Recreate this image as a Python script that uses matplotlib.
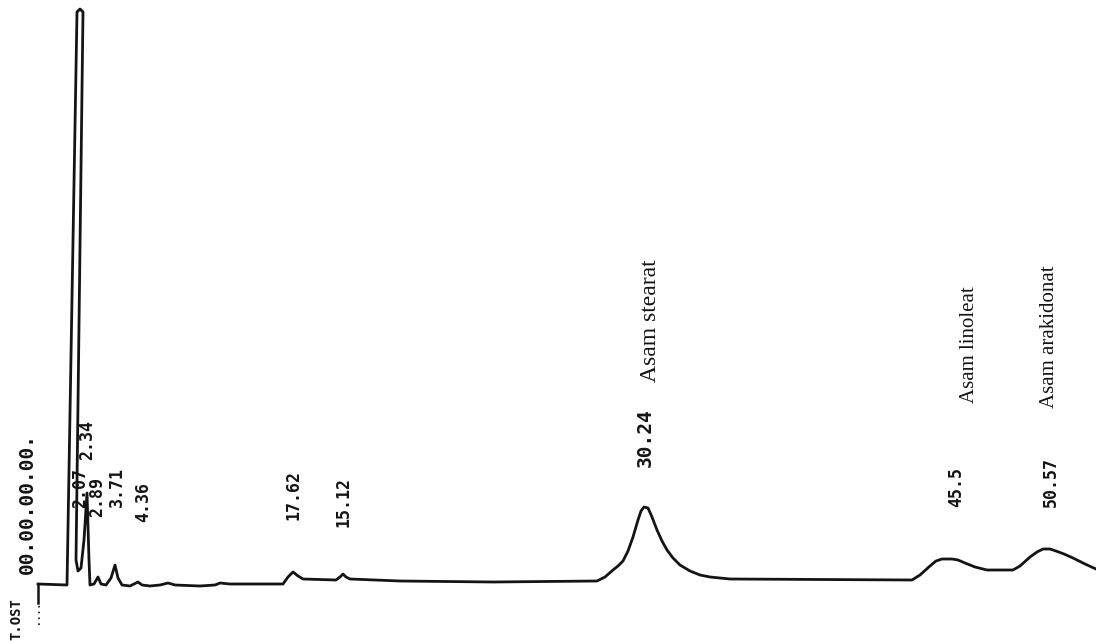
import matplotlib
matplotlib.use("Agg")
import matplotlib.pyplot as plt

# chromatogram trace (x = chart position, y = detector response)
trace_x = [38, 67, 77, 80, 83, 76, 78, 81, 84, 87, 89, 90, 94, 98, 101, 106, 111,
           115, 118, 122, 130, 138, 142, 150, 160, 168, 175, 200, 215, 220, 230,
           283, 288, 293, 298, 303, 336, 340, 343, 346, 350, 400, 493, 597, 605,
           613, 618, 623, 628, 633, 638, 641, 644, 648, 652, 657, 662, 667, 673,
           680, 690, 700, 710, 720, 730, 912, 920, 930, 936, 942, 952, 958, 965,
           975, 987, 1013, 1020, 1030, 1037, 1043, 1050, 1056, 1064, 1073, 1085, 1096]
trace_y = [57, 56, 629, 632, 629, 81, 70, 73, 101, 148, 81, 56, 57, 64, 57, 56, 63,
           76, 63, 56, 55, 59, 56, 55, 56, 58, 56, 55, 56, 58, 57,
           57, 64, 69, 65, 62, 61, 64, 67, 64, 62, 60, 59, 60, 64,
           71, 75, 80, 90, 104, 121, 130, 134, 133, 124, 111, 100, 91, 83,
           76, 70, 66, 64, 63, 62, 61, 66, 75, 80, 82, 82, 81, 78,
           74, 71, 71, 75, 84, 89, 92, 92, 90, 87, 83, 77, 72]

# start marker
start_x = [38, 38]
start_y = [38, 57]

# retention time labels
rt_labels = ["2.07", "2.34", "2.89", "3.71", "4.36", "17.62", "15.12", "30.24", "45.5", "50.57"]
rt_x = [80, 87, 97, 117, 143, 293, 343, 645, 956, 1051]
rt_y = [133, 181, 124, 134, 119, 121, 114, 174, 134, 134]

# compound names
name_labels = ["Asam stearat", "Asam linoleat", "Asam arakidonat"]
name_x = [650, 969, 1049]
name_y = [259, 238, 233]
name_size = [17, 15, 15]

fig = plt.figure(figsize=(10.96, 6.41), dpi=100)
ax = fig.add_axes([0, 0, 1, 1])
ax.set_xlim(0, 1096)
ax.set_ylim(0, 641)
ax.axis("off")

ink = "#141414"
ax.plot(trace_x, trace_y, color=ink, lw=2.0, solid_joinstyle="round")
ax.plot(start_x, start_y, color=ink, lw=1.8)
ax.plot([39, 39], [16, 36], color=ink, lw=1.2, ls=(0, (1, 2.5)))

for lab, x, y in zip(rt_labels, rt_x, rt_y):
    size = 14 if lab == "30.24" else 12
    ax.text(x, y, lab, rotation=90, ha="center", va="bottom", fontsize=size,
            family="DejaVu Sans Mono", fontweight="bold", color=ink)

for lab, x, y, s in zip(name_labels, name_x, name_y, name_size):
    ax.text(x, y, lab, rotation=90, ha="center", va="bottom", fontsize=s,
            family="Liberation Serif", color=ink)

ax.text(27, 67, "00.00.00.00.", rotation=90, ha="center", va="bottom", fontsize=14,
        family="DejaVu Sans Mono", fontweight="bold", color=ink)
ax.text(16, 1, "T.OST", rotation=90, ha="center", va="bottom", fontsize=10,
        family="DejaVu Sans Mono", fontweight="bold", color=ink)

fig.savefig("out.png", dpi=100)
